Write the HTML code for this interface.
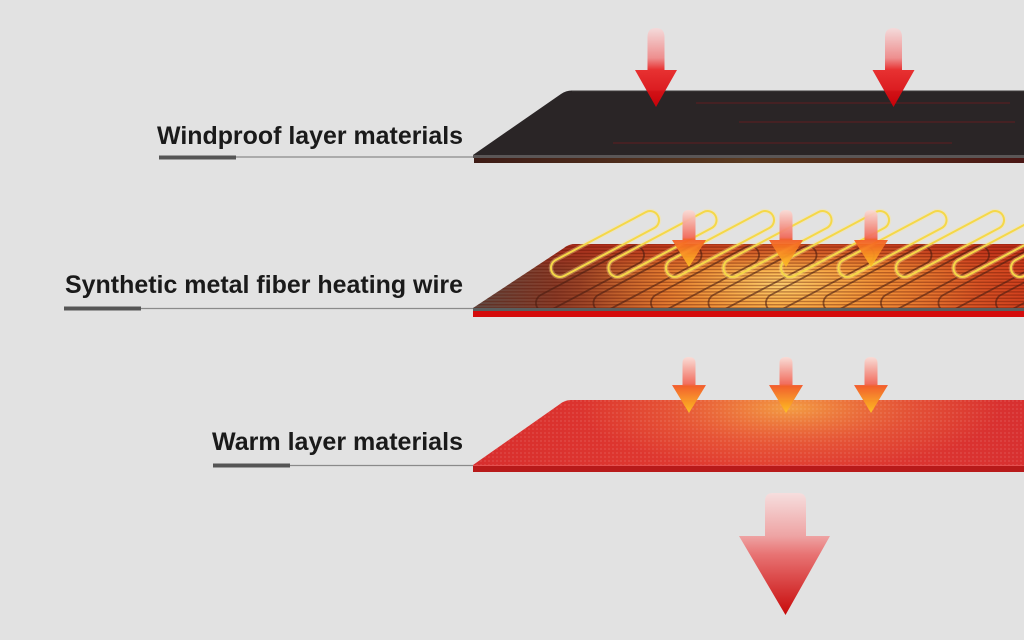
<!DOCTYPE html>
<html>
<head>
<meta charset="utf-8">
<style>
html,body{margin:0;padding:0;background:#e2e2e2;width:1024px;height:640px;overflow:hidden;}
svg{display:block}
</style>
</head>
<body>
<svg width="1024" height="640" viewBox="0 0 1024 640" xmlns="http://www.w3.org/2000/svg">
<defs>
  <linearGradient id="l1strip" x1="473" y1="0" x2="1024" y2="0" gradientUnits="userSpaceOnUse">
    <stop offset="0" stop-color="#3e1c16"/>
    <stop offset="0.5" stop-color="#5a3a20"/>
    <stop offset="1" stop-color="#4a1614"/>
  </linearGradient>
  <linearGradient id="l2base" x1="473" y1="0" x2="1024" y2="0" gradientUnits="userSpaceOnUse">
    <stop offset="0" stop-color="#5e4a44"/>
    <stop offset="0.15" stop-color="#8a3c28"/>
    <stop offset="0.35" stop-color="#d8642a"/>
    <stop offset="0.55" stop-color="#f4a040"/>
    <stop offset="0.75" stop-color="#e87830"/>
    <stop offset="1" stop-color="#d0401e"/>
  </linearGradient>
  <linearGradient id="l2top" x1="0" y1="244" x2="0" y2="308" gradientUnits="userSpaceOnUse">
    <stop offset="0" stop-color="#b01e14" stop-opacity="0.7"/>
    <stop offset="0.4" stop-color="#b01e14" stop-opacity="0"/>
    <stop offset="1" stop-color="#b01e14" stop-opacity="0"/>
  </linearGradient>
  <radialGradient id="l2glow" cx="780" cy="285" r="200" gradientUnits="userSpaceOnUse" gradientTransform="translate(0,199.5) scale(1,0.3)">
    <stop offset="0" stop-color="#ffd878" stop-opacity="0.85"/>
    <stop offset="0.5" stop-color="#ffb040" stop-opacity="0.4"/>
    <stop offset="1" stop-color="#ffb040" stop-opacity="0"/>
  </radialGradient>
  <pattern id="stripes" width="8" height="3.2" patternUnits="userSpaceOnUse">
    <rect width="8" height="1.4" fill="#5a1000" fill-opacity="0.38"/>
  </pattern>
  <linearGradient id="l3base" x1="473" y1="0" x2="1024" y2="0" gradientUnits="userSpaceOnUse">
    <stop offset="0" stop-color="#d82e2e"/>
    <stop offset="0.5" stop-color="#e23c30"/>
    <stop offset="1" stop-color="#d83030"/>
  </linearGradient>
  <radialGradient id="l3glow" cx="790" cy="408" r="210" gradientUnits="userSpaceOnUse" gradientTransform="translate(0,285.6) scale(1,0.3)">
    <stop offset="0" stop-color="#f5a845" stop-opacity="0.9"/>
    <stop offset="0.6" stop-color="#f08040" stop-opacity="0.35"/>
    <stop offset="1" stop-color="#f08040" stop-opacity="0"/>
  </radialGradient>
  <pattern id="weave" width="4" height="4" patternUnits="userSpaceOnUse">
    <rect width="2" height="2" fill="#ffffff" fill-opacity="0.08"/>
  </pattern>
  <linearGradient id="redArrow" x1="0" y1="0" x2="0" y2="1">
    <stop offset="0" stop-color="#f5dada"/>
    <stop offset="0.38" stop-color="#ee8a8a"/>
    <stop offset="0.53" stop-color="#e82828"/>
    <stop offset="1" stop-color="#d00008"/>
  </linearGradient>
  <linearGradient id="orArrow" x1="0" y1="0" x2="0" y2="1">
    <stop offset="0" stop-color="#fbdcd6"/>
    <stop offset="0.48" stop-color="#f26858"/>
    <stop offset="0.52" stop-color="#f35a22"/>
    <stop offset="1" stop-color="#ffc424"/>
  </linearGradient>
  <linearGradient id="bigArrow" x1="0" y1="0" x2="0" y2="1">
    <stop offset="0" stop-color="#f6dede"/>
    <stop offset="0.35" stop-color="#eea4a4"/>
    <stop offset="0.5" stop-color="#e87474"/>
    <stop offset="1" stop-color="#c80a0a"/>
  </linearGradient>
  <clipPath id="clip2">
    <path d="M473,308 L564,248 Q569,244 575,244 L1024,244 L1024,308 Z"/>
  </clipPath>
</defs>

<!-- background -->
<rect width="1024" height="640" fill="#e2e2e2"/>

<!-- Labels -->
<g font-family="'Liberation Sans', Arial, sans-serif" font-weight="bold" font-size="25" fill="#1a1a1a">
  <text x="157" y="144" textLength="306" lengthAdjust="spacingAndGlyphs">Windproof layer materials</text>
  <text x="65" y="293" textLength="398" lengthAdjust="spacingAndGlyphs">Synthetic metal fiber heating wire</text>
  <text x="212" y="450" textLength="251" lengthAdjust="spacingAndGlyphs">Warm layer materials</text>
</g>
<!-- leader lines -->
<g stroke="#8a8a8a" stroke-width="1.2">
  <line x1="159" y1="157" x2="476" y2="157"/>
  <line x1="64" y1="308.5" x2="476" y2="308.5"/>
  <line x1="213" y1="465.5" x2="476" y2="465.5"/>
</g>
<g fill="#555555">
  <rect x="159" y="155.5" width="77" height="4"/>
  <rect x="64" y="306.5" width="77" height="4"/>
  <rect x="213" y="463.5" width="77" height="4"/>
</g>

<!-- Layer 1: windproof (black) -->
<rect x="473" y="155" width="551" height="3" fill="#5a5656"/>
<rect x="474" y="158" width="550" height="5" fill="url(#l1strip)"/>
<path d="M473,155 L561,94 Q566,90.5 572,90.5 L1024,90.5 L1024,155 Z" fill="#2a2526"/>
<line x1="572" y1="91" x2="1024" y2="91" stroke="#3e3a3a" stroke-width="1"/>
<g stroke="#6a1c20" stroke-width="1" opacity="0.85">
  <line x1="696" y1="103" x2="1010" y2="103"/>
  <line x1="739" y1="122" x2="1015" y2="122"/>
  <line x1="613" y1="143" x2="952" y2="143"/>
</g>

<!-- Layer 1 arrows -->
<g fill="url(#redArrow)" opacity="0.95">
  <path d="M647.5,70 V37 Q647.5,28 656,28 Q664.5,28 664.5,37 V70 H677 L656,107 L635,70 Z"/>
  <path d="M885,70 V37 Q885,28 893.5,28 Q902,28 902,37 V70 H914.5 L893.5,107 L872.5,70 Z"/>
</g>

<!-- Layer 2: heating wire -->
<rect x="473" y="308" width="551" height="3" fill="#5a5e5e"/>
<rect x="473" y="311" width="551" height="6" fill="#d40c0c"/>
<g clip-path="url(#clip2)">
  <rect x="473" y="244" width="551" height="64" fill="url(#l2base)"/>
  <rect x="473" y="244" width="551" height="64" fill="url(#l2glow)"/>
  <rect x="473" y="244" width="551" height="64" fill="url(#l2top)"/>
  <rect x="473" y="244" width="551" height="64" fill="url(#stripes)"/>
  <g transform="translate(-15,35)" fill="none" stroke="#4a1c10" stroke-opacity="0.6" stroke-width="1.8">
    <rect x="545" y="235" width="120" height="18" rx="9" transform="rotate(-28 605 244)"/>
    <rect x="602.5" y="235" width="120" height="18" rx="9" transform="rotate(-28 662.5 244)"/>
    <rect x="660" y="235" width="120" height="18" rx="9" transform="rotate(-28 720 244)"/>
    <rect x="717.5" y="235" width="120" height="18" rx="9" transform="rotate(-28 777.5 244)"/>
    <rect x="775" y="235" width="120" height="18" rx="9" transform="rotate(-28 835 244)"/>
    <rect x="832.5" y="235" width="120" height="18" rx="9" transform="rotate(-28 892.5 244)"/>
    <rect x="890" y="235" width="120" height="18" rx="9" transform="rotate(-28 950 244)"/>
    <rect x="947.5" y="235" width="120" height="18" rx="9" transform="rotate(-28 1007.5 244)"/>
    <rect x="1005" y="235" width="120" height="18" rx="9" transform="rotate(-28 1065 244)"/>
  </g>
</g>
<!-- yellow coil loops -->
<g fill="none">
  <g stroke="#ffe890" stroke-opacity="0.35" stroke-width="4.5">
    <rect x="545" y="235" width="120" height="18" rx="9" transform="rotate(-28 605 244)"/>
    <rect x="602.5" y="235" width="120" height="18" rx="9" transform="rotate(-28 662.5 244)"/>
    <rect x="660" y="235" width="120" height="18" rx="9" transform="rotate(-28 720 244)"/>
    <rect x="717.5" y="235" width="120" height="18" rx="9" transform="rotate(-28 777.5 244)"/>
    <rect x="775" y="235" width="120" height="18" rx="9" transform="rotate(-28 835 244)"/>
    <rect x="832.5" y="235" width="120" height="18" rx="9" transform="rotate(-28 892.5 244)"/>
    <rect x="890" y="235" width="120" height="18" rx="9" transform="rotate(-28 950 244)"/>
    <rect x="947.5" y="235" width="120" height="18" rx="9" transform="rotate(-28 1007.5 244)"/>
    <rect x="1005" y="235" width="120" height="18" rx="9" transform="rotate(-28 1065 244)"/>
  </g>
  <g stroke="#f5d848" stroke-width="2">
    <rect x="545" y="235" width="120" height="18" rx="9" transform="rotate(-28 605 244)"/>
    <rect x="602.5" y="235" width="120" height="18" rx="9" transform="rotate(-28 662.5 244)"/>
    <rect x="660" y="235" width="120" height="18" rx="9" transform="rotate(-28 720 244)"/>
    <rect x="717.5" y="235" width="120" height="18" rx="9" transform="rotate(-28 777.5 244)"/>
    <rect x="775" y="235" width="120" height="18" rx="9" transform="rotate(-28 835 244)"/>
    <rect x="832.5" y="235" width="120" height="18" rx="9" transform="rotate(-28 892.5 244)"/>
    <rect x="890" y="235" width="120" height="18" rx="9" transform="rotate(-28 950 244)"/>
    <rect x="947.5" y="235" width="120" height="18" rx="9" transform="rotate(-28 1007.5 244)"/>
    <rect x="1005" y="235" width="120" height="18" rx="9" transform="rotate(-28 1065 244)"/>
  </g>
</g>

<!-- Layer 2 arrows -->
<g fill="url(#orArrow)" opacity="0.93">
  <path d="M682.5,240 V216 Q682.5,210 689,210 Q695.5,210 695.5,216 V240 H706 L689,267 L672,240 Z"/>
  <path d="M779.5,240 V216 Q779.5,210 786,210 Q792.5,210 792.5,216 V240 H803 L786,267 L769,240 Z"/>
  <path d="M864.5,240 V216 Q864.5,210 871,210 Q877.5,210 877.5,216 V240 H888 L871,267 L854,240 Z"/>
</g>

<!-- Layer 3: warm layer -->
<rect x="473" y="465" width="551" height="7" fill="#b81a1a"/>
<rect x="473" y="465" width="551" height="1" fill="#e45050"/>
<path d="M473,465 L560,404 Q565,400 571,400 L1024,400 L1024,465 Z" fill="url(#l3base)"/>
<path d="M473,465 L560,404 Q565,400 571,400 L1024,400 L1024,465 Z" fill="url(#l3glow)"/>
<path d="M473,465 L560,404 Q565,400 571,400 L1024,400 L1024,465 Z" fill="url(#weave)"/>

<!-- Layer 3 arrows -->
<g fill="url(#orArrow)" opacity="0.95">
  <path d="M682.5,385 V363 Q682.5,357 689,357 Q695.5,357 695.5,363 V385 H706 L689,413 L672,385 Z"/>
  <path d="M779.5,385 V363 Q779.5,357 786,357 Q792.5,357 792.5,363 V385 H803 L786,413 L769,385 Z"/>
  <path d="M864.5,385 V363 Q864.5,357 871,357 Q877.5,357 877.5,363 V385 H888 L871,413 L854,385 Z"/>
</g>

<!-- Big bottom arrow -->
<path d="M765,536 L765,501 Q765,493 773,493 L798,493 Q806,493 806,501 L806,536 L830,536 L785.5,615 L739,536 Z" fill="url(#bigArrow)"/>
</svg>
</body>
</html>
